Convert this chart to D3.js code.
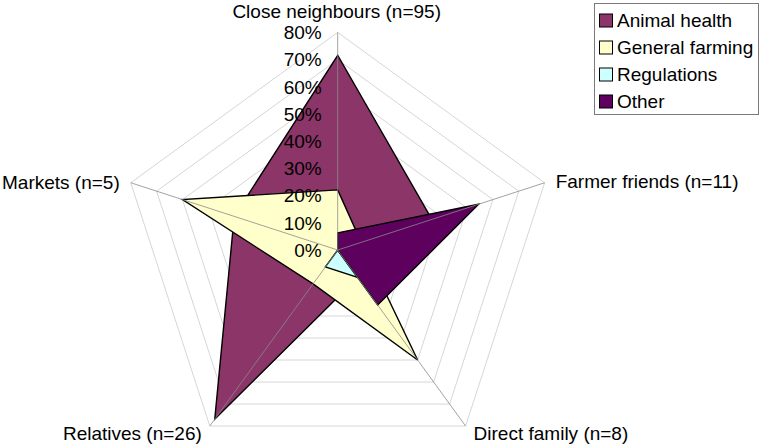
<!DOCTYPE html>
<html>
<head>
<meta charset="utf-8">
<script src="https://cdn.jsdelivr.net/npm/d3@7"></script>
<style>
  html, body { margin: 0; padding: 0; background: #fff; }
  svg { display: block; }
  text { font-family: "Liberation Sans", Arial, sans-serif; fill: #000; }
</style>
</head>
<body>
<svg id="chart" width="762" height="444"></svg>
<script>
// ---- data ----
const categories = ["Close neighbours (n=95)", "Farmer friends (n=11)", "Direct family (n=8)", "Relatives (n=26)", "Markets (n=5)"];
const seriesNames = ["Animal health", "General farming", "Regulations", "Other"];
const animalHealth   = [0.716, 0.364, 0.125, 0.769, 0.40];
const generalFarming = [0.221, 0.091, 0.50, 0.154, 0.60];
const regulations    = [0.0, 0.0, 0.125, 0.077, 0.0];
const other          = [0.063, 0.545, 0.25, 0.0, 0.0];
const tickValues = [0, 0.1, 0.2, 0.3, 0.4, 0.5, 0.6, 0.7, 0.8];
const tickLabels = ["0%", "10%", "20%", "30%", "40%", "50%", "60%", "70%", "80%"];

const seriesValues = [animalHealth, generalFarming, regulations, other];
const colors = ["#8c3569", "#ffffcc", "#ccffff", "#5e005e"];

// ---- layout ----
const svg = d3.select("#chart");
const cx = 337.7, cy = 250, R = 217.6;
const FS = "19px";
const r = d3.scaleLinear().domain([0, 0.8]).range([0, R]);
const angle = d3.scalePoint().domain(d3.range(categories.length)).range([0, 2 * Math.PI * (categories.length - 1) / categories.length]);
const px = (i, v) => cx + r(v) * Math.sin(angle(i));
const py = (i, v) => cy - r(v) * Math.cos(angle(i));

const g = svg.append("g");

// gridlines (pentagons)
tickValues.slice(1).forEach(t => {
  const pts = categories.map((c, i) => [px(i, t), py(i, t)]);
  g.append("polygon")
    .attr("points", pts.map(p => p.join(",")).join(" "))
    .attr("fill", "none")
    .attr("stroke", "#d6d6d6")
    .attr("stroke-width", 1);
});

// series polygons
seriesValues.forEach((vals, s) => {
  const pts = vals.map((v, i) => [px(i, v), py(i, v)]);
  g.append("polygon")
    .attr("points", pts.map(p => p.join(",")).join(" "))
    .attr("fill", colors[s])
    .attr("stroke", "#000")
    .attr("stroke-width", 1.4)
    .attr("stroke-linejoin", "miter");
});

// spokes
categories.forEach((c, i) => {
  g.append("line")
    .attr("x1", cx).attr("y1", cy)
    .attr("x2", px(i, 0.8)).attr("y2", py(i, 0.8))
    .attr("stroke", "#8a8a8a")
    .attr("stroke-width", 0.8);
});

// value axis tick labels
tickValues.forEach((t, k) => {
  g.append("text")
    .attr("x", cx - 16)
    .attr("y", cy - r(t))
    .attr("dy", "0.36em")
    .attr("text-anchor", "end")
    .style("font-size", FS)
    .text(tickLabels[k]);
});

// category labels
const labelPos = [
  {dx: 0, dy: -239, anchor: "middle"},
  {dx: 11, dy: -2, anchor: "start"},
  {dx: 8, dy: 7, anchor: "start"},
  {dx: -8, dy: 7, anchor: "end"},
  {dx: -11, dy: -1, anchor: "end"}
];
categories.forEach((c, i) => {
  const lp = labelPos[i];
  const x = i === 0 ? cx - 1 : px(i, 0.8) + lp.dx;
  const y = i === 0 ? cy + lp.dy : py(i, 0.8) + lp.dy;
  g.append("text")
    .attr("x", x).attr("y", y)
    .attr("dy", "0.36em")
    .attr("text-anchor", lp.anchor)
    .style("font-size", FS)
    .text(c);
});

// legend
const lg = svg.append("g");
lg.append("rect")
  .attr("x", 594.5).attr("y", 3.5)
  .attr("width", 164).attr("height", 111)
  .attr("fill", "#fff")
  .attr("stroke", "#7a7a7a")
  .attr("stroke-width", 1);
seriesNames.forEach((name, s) => {
  const yc = 20.5 + s * 27;
  lg.append("rect")
    .attr("x", 599.5).attr("y", yc - 6.5)
    .attr("width", 13).attr("height", 13)
    .attr("fill", colors[s])
    .attr("stroke", "#000")
    .attr("stroke-width", 1);
  lg.append("text")
    .attr("x", 617).attr("y", yc)
    .attr("dy", "0.36em")
    .style("font-size", FS)
    .text(name);
});
</script>
</body>
</html>
